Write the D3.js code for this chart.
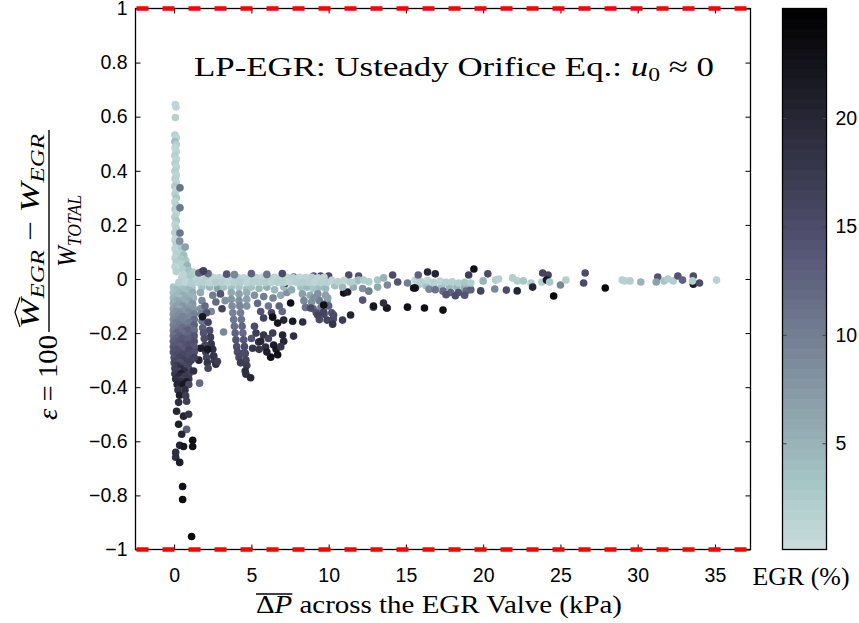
<!DOCTYPE html>
<html>
<head>
<meta charset="utf-8">
<script src="https://cdn.jsdelivr.net/npm/d3@7"></script>
<style>
  body { margin: 0; background: #fff; }
  svg { display: block; }
</style>
</head>
<body>
<svg id="chart" width="859" height="623"></svg>
<script>
// ---- axis ticks ----
const xTickValues = [0, 5, 10, 15, 20, 25, 30, 35];
const xTickLabels = ["0", "5", "10", "15", "20", "25", "30", "35"];
const yTickValues = [-1, -0.8, -0.6, -0.4, -0.2, 0, 0.2, 0.4, 0.6, 0.8, 1];
const yTickLabels = ["\u22121", "\u22120.8", "\u22120.6", "\u22120.4", "\u22120.2", "0", "0.2", "0.4", "0.6", "0.8", "1"];
const egrTickValues = [5, 10, 15, 20];
const egrTickLabels = ["5", "10", "15", "20"];
const errorBounds = [-1, 1];

// ---- samples: [mean ΔP (kPa), error ε, EGR (%)] ----
// narrow spike of positive error at very small ΔP
const spikePoints = [
  [0.08,0.645,1.4],[0.12,0.636,1.2],[0.08,0.597,1.5],
  [0.05,0.532,1.6],[0.14,0.522,1.2],[0.05,0.508,3.8],[0.14,0.497,2.2],[0.06,0.485,1.3],[0.14,0.471,1.1],
  [0.05,0.457,1.8],[0.14,0.443,1.2],[0.06,0.428,1.5],[0.14,0.414,1.1],[0.05,0.399,2.0],[0.14,0.385,1.3],
  [0.06,0.371,1.6],[0.14,0.357,1.2],[0.05,0.343,2.6],[0.14,0.329,1.3],[0.06,0.314,1.6],[0.14,0.300,3.2],
  [0.05,0.286,1.3],[0.14,0.272,1.5],[0.06,0.258,2.0],[0.14,0.244,1.1],[0.05,0.229,1.8],[0.14,0.215,2.8],
  [0.06,0.201,1.3],[0.14,0.187,1.6],[0.05,0.172,2.0],[0.14,0.158,1.5],[0.06,0.144,1.3],[0.30,0.135,3.8],
  [0.14,0.129,1.6],[0.32,0.118,2.4],[0.06,0.112,1.3],[0.50,0.108,3.2],[0.36,0.096,1.8],[0.14,0.094,1.5],
  [0.62,0.088,4.2],[0.06,0.078,1.3],[0.42,0.075,2.6],[0.75,0.068,3.2],[0.14,0.062,2.0],[0.48,0.055,1.6],
  [0.85,0.050,4.8],[0.06,0.045,1.3],[0.55,0.036,2.4],[0.95,0.031,3.4],[1.25,0.025,2.0],[0.14,0.028,1.6],
  [0.60,0.016,1.3],[1.05,0.013,2.8],
  [0.38,0.337,11],[0.38,0.263,10.5],[0.38,0.170,11],[0.36,0.140,8],[0.72,0.118,7],[1.6,0.022,13],[1.9,0.030,16.5]
];

// negative-error column at ΔP below 1.5 kPa
const lowDpColumn = [
  [-0.05,-0.03,3.0],[0.35,-0.03,2.6],[0.75,-0.03,3.4],[1.15,-0.032,3.0],
  [0.15,-0.04,4.0],[0.55,-0.04,3.6],[0.95,-0.042,4.5],
  [-0.05,-0.05,3.6],[0.35,-0.05,4.5],[0.75,-0.052,4.0],[1.2,-0.05,5.5],
  [0.15,-0.06,4.6],[0.55,-0.06,5.5],[0.95,-0.062,5.0],
  [-0.05,-0.07,4.6],[0.35,-0.07,4.2],[0.75,-0.072,5.6],[1.25,-0.07,4.8],
  [0.15,-0.08,6.0],[0.55,-0.08,5.6],[0.95,-0.082,6.5],
  [-0.05,-0.09,5.6],[0.35,-0.09,6.5],[0.75,-0.09,5.2],[1.2,-0.092,7.5],
  [0.15,-0.10,6.6],[0.55,-0.10,7.5],[0.95,-0.102,7.0],
  [-0.05,-0.11,6.6],[0.35,-0.11,6.2],[0.8,-0.112,7.6],[1.25,-0.11,7.2],
  [0.15,-0.12,8.0],[0.55,-0.12,7.6],[0.95,-0.122,8.5],
  [-0.05,-0.13,7.6],[0.35,-0.13,8.6],[0.8,-0.132,8.2],[1.3,-0.13,9.6],
  [0.15,-0.14,8.6],[0.55,-0.14,9.6],[0.95,-0.142,9.2],
  [-0.05,-0.15,8.6],[0.35,-0.15,9.6],[0.8,-0.152,9.2],[1.3,-0.15,11.5],
  [0.15,-0.16,10.0],[0.55,-0.16,9.6],[0.95,-0.162,10.6],
  [-0.05,-0.17,9.6],[0.35,-0.17,10.6],[0.8,-0.172,10.2],[1.3,-0.17,12.6],
  [0.15,-0.18,10.6],[0.55,-0.18,11.6],[0.95,-0.182,11.2],
  [-0.05,-0.19,10.6],[0.35,-0.19,11.6],[0.85,-0.19,12.6],[1.3,-0.19,11.6],
  [0.15,-0.20,12.2],[0.55,-0.20,11.6],[0.95,-0.202,12.6],
  [-0.05,-0.21,11.6],[0.35,-0.21,12.6],[0.85,-0.212,12.2],[1.3,-0.21,13.6],
  [0.15,-0.22,12.6],[0.55,-0.22,13.6],[0.95,-0.222,13.2],
  [-0.05,-0.23,12.6],[0.35,-0.23,13.6],[0.85,-0.232,13.2],[1.3,-0.23,14.6],
  [0.15,-0.24,13.6],[0.55,-0.24,14.2],[0.95,-0.242,14.6],
  [-0.05,-0.25,13.6],[0.35,-0.25,13.2],[0.85,-0.252,14.6],[1.3,-0.25,14.2],
  [0.15,-0.26,14.6],[0.55,-0.26,13.8],[0.95,-0.262,15.6],
  [-0.05,-0.27,14.2],[0.35,-0.27,14.6],[0.9,-0.272,15.6],[1.3,-0.27,14.6],
  [0.15,-0.28,15.2],[0.55,-0.28,15.6],[0.95,-0.282,14.8],
  [0.0,-0.29,14.6],[0.35,-0.29,16.2],[0.9,-0.29,15.2],[1.3,-0.29,16.6],
  [0.2,-0.30,15.6],[0.6,-0.30,16.6],[1.1,-0.30,16.2],
  [0.0,-0.31,15.6],[0.4,-0.31,14.6],[0.95,-0.31,16.6],
  [0.2,-0.32,17.6],[0.6,-0.32,15.6],
  [0.05,-0.33,16.6],[0.4,-0.33,18.6],[0.95,-0.332,15.6],
  [0.25,-0.34,16.6],[0.65,-0.34,18.6],
  [0.05,-0.35,17.6],[0.45,-0.35,21],[0.95,-0.352,16.6],
  [0.3,-0.36,19.6],[0.7,-0.36,17.6],
  [0.1,-0.37,18.6],[0.5,-0.372,16.6],[0.95,-0.37,17.6],
  [0.4,-0.38,18.6],[0.8,-0.38,21],
  [0.2,-0.39,20],[0.6,-0.39,22],[0.95,-0.39,15.6],
  [0.25,-0.41,18],[0.7,-0.41,19],
  [0.35,-0.43,21],[0.75,-0.432,17],
  [0.29,-0.456,19],[0.81,-0.452,17],[0.16,-0.489,20],[0.61,-0.507,20],[0.94,-0.5,18],
  [0.29,-0.537,21],[0.81,-0.556,13],[0.49,-0.574,20],[1.2,-0.596,23],[1.2,-0.619,23],
  [0.36,-0.615,20],[0.61,-0.619,22],[0.1,-0.641,19],[0.1,-0.659,19],[0.36,-0.678,21],
  [0.55,-0.767,23],[0.55,-0.815,24],[1.13,-0.952,24],
  [1.65,-0.385,12],[1.26,-0.34,19]
];

// streaks between 1.5 and 8 kPa
const midStreaks = [
  [1.8,-0.03,3.5],[2.3,-0.03,4.5],[2.8,-0.035,6.5],[3.2,-0.03,3.5],[2.5,-0.06,10],[3.0,-0.055,14],
  [3.3,-0.08,8],[2.7,-0.085,12],[3.1,-0.11,16],[2.4,-0.12,9],
  [1.7,-0.05,6],[1.8,-0.08,9],[1.7,-0.11,8],[2.0,-0.1,12],[1.75,-0.13,10],[2.1,-0.125,14],
  [1.8,-0.155,11],[2.2,-0.16,16],[1.85,-0.18,13],[2.3,-0.19,15],[1.9,-0.2,14],[2.35,-0.215,17],
  [1.95,-0.22,15],[2.4,-0.24,18],[2.0,-0.245,16],[2.5,-0.26,19],[2.05,-0.27,17],[2.55,-0.285,18],
  [2.1,-0.29,16],[1.6,-0.3,20],[2.6,-0.3,17],[2.15,-0.31,18],[2.2,-0.33,16],[2.7,-0.315,19],
  [3.2,-0.196,9],
  [1.84,-0.14,22],[2.17,-0.26,22],[2.56,-0.285,18],[2.8,-0.305,17],[1.71,-0.256,21],
  [3.7,-0.03,3.5],[4.2,-0.03,3.0],[4.7,-0.035,4.0],[3.7,-0.05,6],[4.2,-0.055,7],[4.7,-0.05,5.5],
  [3.7,-0.075,7.5],[4.2,-0.08,8],[4.7,-0.075,7],[3.75,-0.1,8.5],[4.25,-0.1,9],[4.7,-0.1,8],
  [3.8,-0.125,9.5],[4.3,-0.125,10],[3.85,-0.15,10.5],[4.35,-0.15,11],[3.9,-0.175,11.5],[4.4,-0.175,12.5],
  [3.95,-0.2,13],[4.45,-0.2,12],[4.0,-0.225,14],[4.5,-0.225,13.5],[4.05,-0.25,14.5],[4.55,-0.25,15],
  [4.1,-0.27,15],[4.6,-0.275,16],[4.2,-0.29,15.5],[4.65,-0.3,16],[4.3,-0.31,17],[4.7,-0.32,17],
  [4.6,-0.34,19],[4.65,-0.352,19],[4.95,-0.365,20],
  [5.0,-0.03,3.5],[5.5,-0.035,4.5],[6.0,-0.03,5.5],[6.5,-0.04,4.5],[5.2,-0.06,8],[5.8,-0.065,10],
  [6.4,-0.07,9],[6.9,-0.06,6],[5.4,-0.09,12],[6.1,-0.1,11],[6.8,-0.1,13],[5.6,-0.12,14],
  [6.3,-0.125,16],[7.0,-0.12,12],[7.3,-0.05,8],[7.6,-0.04,6],[7.1,-0.03,4.5],
  [7.22,-0.015,24],[7.54,-0.089,23],[6.38,-0.141,23],[7.09,-0.152,20],[7.67,-0.156,22],
  [8.32,-0.159,19],[7.02,-0.207,20],[7.73,-0.211,19],[7.09,-0.23,20],[6.25,-0.289,23],
  [5.92,-0.252,19],[5.47,-0.233,19],[6.44,-0.244,21],[5.08,-0.256,18],[4.5,-0.274,15],
  [5.79,-0.207,18],[6.38,-0.2,17],[6.7,-0.163,22],[5.79,-0.144,16],
  [5.3,-0.2,17],[5.6,-0.23,20],[6.0,-0.27,21],[6.6,-0.26,22],[6.9,-0.25,18],[6.1,-0.22,16],
  [5.5,-0.26,18],[6.7,-0.28,23],[5.0,-0.22,14],[5.2,-0.175,15]
];

// groups from 8 to 20 kPa
const clusterPoints = [
  [8.2,-0.03,3.5],[8.6,-0.03,4.5],[9.0,-0.035,3.0],[9.4,-0.03,4.0],[9.8,-0.035,4.5],
  [8.3,-0.055,7],[8.8,-0.06,6],[9.3,-0.055,8],[9.8,-0.06,7],[8.4,-0.08,9],[8.9,-0.085,8],
  [9.4,-0.08,10],[9.9,-0.085,9],[8.5,-0.105,11],[9.0,-0.11,12],[9.5,-0.105,10],[10.0,-0.1,13],
  [9.2,-0.125,14],[9.7,-0.13,15],[10.2,-0.125,14],[9.4,-0.15,15],[9.9,-0.152,16],[10.3,-0.148,15],
  [9.03,-0.07,8],[9.94,-0.07,7],[8.83,-0.107,15],[9.68,-0.122,16],[10.32,-0.133,15],[9.29,-0.133,16],
  [10.26,-0.167,18],[10.9,-0.152,17],[11.42,-0.133,20],[9.68,-0.096,23],[10.97,-0.052,23],[11.23,-0.048,21],
  [12.2,-0.078,14],[12.9,-0.104,16],[13.8,-0.107,15],
  [12.9,-0.1,22],[13.75,-0.107,22],[13.55,-0.089,19],[15.1,-0.104,23],[16.2,-0.107,23],[17.4,-0.115,23],
  [10.4,-0.025,3.5],[10.9,-0.03,4.5],[11.6,-0.03,5.5],[12.2,-0.035,8],[12.6,-0.045,10],
  [15.8,-0.022,2.5],[16.3,-0.025,3.5],[16.8,-0.028,3.0],[17.3,-0.025,3.5],[17.8,-0.03,4.5],[18.3,-0.03,5.0],
  [18.8,-0.032,5.5],[19.1,-0.028,4.5],
  [16.5,-0.038,9],[16.9,-0.04,11],[17.4,-0.045,12],[17.9,-0.05,13],[18.4,-0.05,14],[18.9,-0.045,12],
  [19.2,-0.04,13],[17.6,-0.058,14],[18.2,-0.062,15],[18.8,-0.06,14],
  [15.6,-0.005,1.3],[16.0,-0.01,1.8],[16.4,-0.005,1.3],[16.8,-0.012,1.8],[17.2,-0.008,1.3],[17.6,-0.012,2.2],
  [18.0,-0.01,1.8],[18.4,-0.015,2.2],[18.8,-0.012,3.0],[19.2,-0.015,2.2],
  [15.6,-0.033,23],[16.4,0.026,20],[16.9,0.019,20],[19.4,0.037,23],[19.06,0.015,17],
  [11.3,0.015,15],[14.14,0.015,15],[14.47,-0.011,14],[13.8,-0.022,9],[13.17,-0.03,6],
  [9.03,0.011,14],[10.0,0.011,15],[7.74,0.007,13],[8.96,0.007,14],[9.48,0.011,15],[11.94,0.011,14],
  [15.1,-0.015,10],[15.5,-0.033,23],[15.8,0.015,13]
];

// light band hugging zero error up to about 14 kPa
const bandPoints = [
  [0.5,0.006,1.1],[0.9,0.006,1.4],[1.3,0.004,1.0],[1.7,0.006,1.2],[2.1,0.005,1.5],[2.5,0.006,1.1],
  [2.9,0.004,1.4],[3.3,0.006,1.0],[3.7,0.005,1.2],[4.1,0.006,1.6],[4.5,0.004,1.1],[4.9,0.006,1.4],
  [5.3,0.005,1.2],[5.7,0.006,1.0],[6.1,0.004,1.5],[6.5,0.006,1.2],[6.9,0.005,1.1],[7.3,0.006,1.4],
  [7.7,0.004,1.6],[8.1,0.006,1.1],[8.5,0.005,1.2],[8.9,0.006,1.5],[9.3,0.004,1.1],[9.7,0.006,1.4],
  [0.3,-0.013,1.7],[0.7,-0.012,1.4],[1.1,-0.014,2.0],[1.5,-0.013,1.5],[1.9,-0.012,1.8],[2.3,-0.014,1.4],
  [2.7,-0.013,2.2],[3.1,-0.012,1.5],[3.5,-0.014,1.2],[3.9,-0.013,1.8],[4.3,-0.012,2.0],[4.7,-0.014,1.4],
  [5.1,-0.013,1.7],[5.5,-0.012,1.5],[5.9,-0.014,2.0],[6.3,-0.013,1.4],[6.7,-0.012,1.8],[7.1,-0.014,1.5],
  [7.5,-0.013,1.2],[7.9,-0.012,1.7],[8.3,-0.014,2.0],[8.7,-0.013,1.5],[9.1,-0.012,1.4],[9.5,-0.014,1.8],
  [9.9,-0.013,1.5],
  [10.2,-0.005,1.3],[10.6,-0.01,1.7],[11.0,-0.005,1.3],[11.4,-0.012,2.0],[11.8,-0.008,1.7],[12.6,-0.01,2.0],
  [11.94,-0.004,4],[12.27,-0.004,2.2],[13.17,-0.004,3],[13.56,0.004,5],
  [1.8,0.027,17],[2.2,0.02,12],[3.4,0.018,14],[3.9,0.016,9],[5.0,0.02,13],[6.0,0.017,11],[7.0,0.02,15]
];

// isolated points above 19 kPa
const sparsePoints = [
  [20.3,0.019,15],[20.0,-0.007,5],[19.84,-0.044,16],[20.8,-0.004,2.2],[21.0,0.0,1.8],[20.75,-0.037,9],
  [21.5,-0.041,15],[21.9,0.004,2.2],[22.2,-0.044,20],[22.2,-0.007,2.2],[22.6,-0.007,3],[23.1,-0.015,2.2],
  [23.2,-0.03,20],[23.8,-0.011,2.2],[23.85,0.022,16],[24.2,0.015,16],[24.1,-0.004,22],[24.3,-0.011,3],
  [24.56,-0.063,24],[25.0,-0.022,9],[25.35,-0.004,2.2],[26.6,0.022,15],[26.5,-0.015,15],[27.9,-0.033,24],
  [29.0,-0.004,1.8],[29.15,-0.007,1.8],[29.5,-0.007,2.2],[30.2,-0.011,5],[31.3,0.007,14],[31.2,-0.011,7],
  [31.7,-0.007,3],[31.95,0.0,2.2],[32.3,-0.007,2.2],[32.6,0.011,14],[32.9,-0.004,13],[33.6,0.011,15],
  [33.6,-0.019,21],[33.55,-0.007,2.2],[34.0,-0.015,15],[35.1,-0.004,1.8]
];

// ---- layout ----
const svg = d3.select("#chart");
const plot = { left: 135.5, right: 750.5, top: 8.5, bottom: 549.5 };
const cbar = { left: 782.5, right: 826.5, top: 8.5, bottom: 549.5 };
const sansFont = "'Liberation Sans', Arial, Helvetica, sans-serif";
const serifFont = "'Liberation Serif', 'Times New Roman', serif";

const x = d3.scaleLinear().domain([-2.5, 37.3]).range([plot.left, plot.right]);
const y = d3.scaleLinear().domain([-1, 1]).range([plot.bottom, plot.top]);

// reversed "bone" colormap, light end trimmed
function bone(t) {
  const c = v => Math.max(0, Math.min(1, v));
  const hr = c(t / 0.375), hg = c((t - 0.375) / 0.375), hb = c((t - 0.75) / 0.25);
  return d3.rgb(255 * (7 * t + hb) / 8, 255 * (7 * t + hg) / 8, 255 * (7 * t + hr) / 8).formatHex();
}
const nLevels = 54;
const egrDomain = [0.1, 25.05];
const palette = d3.range(nLevels).map(i => bone(0.85 * (1 - (i + 0.5) / nLevels)));
const colour = d3.scaleQuantize().domain(egrDomain).range(palette);
const cy = d3.scaleLinear().domain(egrDomain).range([cbar.bottom, cbar.top]);

// ---- scatter ----
const allPoints = [].concat(midStreaks, lowDpColumn, clusterPoints, bandPoints, spikePoints, sparsePoints);
svg.append("g").attr("class", "points")
  .selectAll("circle").data(allPoints).join("circle")
  .attr("cx", d => x(d[0]))
  .attr("cy", d => y(d[1]))
  .attr("r", 3.8)
  .attr("fill", d => colour(d[2]));

// ---- frame and ticks ----
function styleAxis(g) {
  g.select(".domain").remove();
  g.selectAll(".tick line").attr("stroke", "#000").attr("stroke-width", 1);
  g.selectAll(".tick text").attr("fill", "#000").attr("font-family", sansFont).attr("font-size", 19.5);
}
svg.append("g").attr("transform", `translate(0,${plot.bottom})`)
  .call(d3.axisBottom(x).tickValues(xTickValues).tickFormat((d, i) => xTickLabels[i]).tickSize(-5).tickPadding(19))
  .call(styleAxis);
svg.append("g").attr("transform", `translate(0,${plot.top})`)
  .call(d3.axisTop(x).tickValues(xTickValues).tickFormat("").tickSize(-5))
  .call(styleAxis);
svg.append("g").attr("transform", `translate(${plot.left},0)`)
  .call(d3.axisLeft(y).tickValues(yTickValues).tickFormat((d, i) => yTickLabels[i]).tickSize(-5).tickPadding(8))
  .call(styleAxis);
svg.append("g").attr("transform", `translate(${plot.right},0)`)
  .call(d3.axisRight(y).tickValues(yTickValues).tickFormat("").tickSize(-5))
  .call(styleAxis);

svg.append("rect")
  .attr("x", plot.left).attr("y", plot.top)
  .attr("width", plot.right - plot.left).attr("height", plot.bottom - plot.top)
  .attr("fill", "none").attr("stroke", "#000").attr("stroke-width", 1.3);

// error bounds at ±1
svg.append("g").selectAll("line").data(errorBounds).join("line")
  .attr("x1", plot.left + 1).attr("x2", plot.right)
  .attr("y1", d => y(d)).attr("y2", d => y(d))
  .attr("stroke", "#ff0000").attr("stroke-width", 4.5)
  .attr("stroke-dasharray", "12,14");

// ---- title ----
const title = svg.append("text")
  .attr("x", 454).attr("y", 76)
  .attr("text-anchor", "middle")
  .attr("font-family", serifFont).attr("font-size", 28).attr("fill", "#000")
  .attr("textLength", 520).attr("lengthAdjust", "spacingAndGlyphs");
title.append("tspan").text("LP-EGR: Usteady Orifice Eq.: ");
title.append("tspan").attr("font-style", "italic").text("u");
title.append("tspan").attr("font-size", 19).attr("dy", 5).text("0");
title.append("tspan").attr("dy", -5).text(" \u2248 0");

// ---- x label with overlined ΔP ----
const xlab = svg.append("text")
  .attr("x", 439).attr("y", 613)
  .attr("text-anchor", "middle")
  .attr("font-family", serifFont).attr("font-size", 25).attr("fill", "#000")
  .attr("textLength", 366).attr("lengthAdjust", "spacingAndGlyphs");
xlab.append("tspan").text("\u0394");
xlab.append("tspan").attr("font-style", "italic").text("P");
xlab.append("tspan").text(" across the EGR Valve (kPa)");
{
  const a = xlab.node().getExtentOfChar(0), b = xlab.node().getExtentOfChar(1);
  const top = a.y + 3;
  svg.append("line")
    .attr("x1", a.x).attr("x2", b.x + b.width)
    .attr("y1", top).attr("y2", top)
    .attr("stroke", "#000").attr("stroke-width", 1.4);
}

// ---- y label: ε = 100 (Ŵ_EGR − W_EGR) / W_TOTAL, rotated ----
const ylab = svg.append("g")
  .attr("transform", "translate(49,231) rotate(-90)")
  .attr("font-family", serifFont).attr("fill", "#000");
ylab.append("line")
  .attr("x1", -101).attr("x2", 101).attr("y1", 0).attr("y2", 0)
  .attr("stroke", "#000").attr("stroke-width", 1.4);
const eps = ylab.append("text")
  .attr("x", -104).attr("y", 8).attr("text-anchor", "end").attr("font-size", 27)
  .attr("textLength", 85).attr("lengthAdjust", "spacingAndGlyphs");
eps.append("tspan").attr("font-style", "italic").text("\u03B5");
eps.append("tspan").text(" = 100");
const num = ylab.append("text")
  .attr("x", 0).attr("y", -10).attr("text-anchor", "middle").attr("font-size", 27)
  .attr("textLength", 194).attr("lengthAdjust", "spacingAndGlyphs");
num.append("tspan").attr("font-style", "italic").text("W");
num.append("tspan").attr("font-style", "italic").attr("font-size", 19).attr("dy", 5).text("EGR");
num.append("tspan").attr("dy", -5).text(" \u2212 ");
num.append("tspan").attr("font-style", "italic").text("W");
num.append("tspan").attr("font-style", "italic").attr("font-size", 19).attr("dy", 5).text("EGR");
{
  const w = num.node().getExtentOfChar(0);
  const base = w.y + 5;
  ylab.append("path")
    .attr("d", `M${w.x + 1},${base} L${w.x + w.width / 2 + 1},${base - 5} L${w.x + w.width + 1},${base}`)
    .attr("fill", "none").attr("stroke", "#000").attr("stroke-width", 1.2);
}
const den = ylab.append("text")
  .attr("x", 0).attr("y", 27).attr("text-anchor", "middle").attr("font-size", 27)
  .attr("textLength", 72).attr("lengthAdjust", "spacingAndGlyphs");
den.append("tspan").attr("font-style", "italic").text("W");
den.append("tspan").attr("font-style", "italic").attr("font-size", 19).attr("dy", 5).text("TOTAL");

// ---- colour bar ----
const cb = svg.append("g");
cb.selectAll("rect").data(palette).join("rect")
  .attr("x", cbar.left)
  .attr("width", cbar.right - cbar.left)
  .attr("y", c => cy(colour.invertExtent(c)[1]))
  .attr("height", c => cy(colour.invertExtent(c)[0]) - cy(colour.invertExtent(c)[1]) + 0.6)
  .attr("fill", c => c);
svg.append("g").attr("transform", `translate(${cbar.right},0)`)
  .call(d3.axisRight(cy).tickValues(egrTickValues).tickFormat((d, i) => egrTickLabels[i]).tickSize(-4).tickPadding(9))
  .call(styleAxis)
  .call(g => g.selectAll(".tick line").attr("stroke", "#444"));
svg.append("g").attr("transform", `translate(${cbar.left},0)`)
  .call(d3.axisLeft(cy).tickValues(egrTickValues).tickFormat("").tickSize(-4))
  .call(styleAxis)
  .call(g => g.selectAll(".tick line").attr("stroke", "#444"));
svg.append("rect")
  .attr("x", cbar.left).attr("y", cbar.top)
  .attr("width", cbar.right - cbar.left).attr("height", cbar.bottom - cbar.top)
  .attr("fill", "none").attr("stroke", "#000").attr("stroke-width", 1.3);
svg.append("text")
  .attr("x", 801).attr("y", 585).attr("text-anchor", "middle")
  .attr("font-family", serifFont).attr("font-size", 25).attr("fill", "#000")
  .attr("textLength", 97).attr("lengthAdjust", "spacingAndGlyphs")
  .text("EGR (%)");
</script>
</body>
</html>
